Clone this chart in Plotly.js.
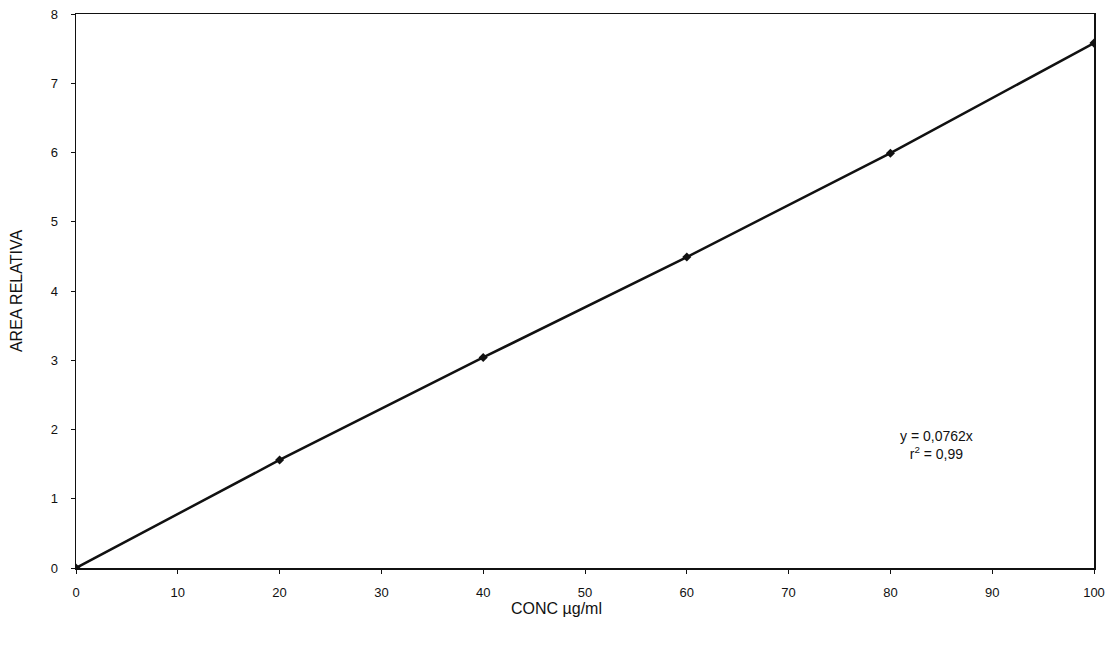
<!DOCTYPE html>
<html>
<head>
<meta charset="utf-8">
<script src="https://cdn.plot.ly/plotly-3.0.1.min.js"></script>
<style>html,body{margin:0;padding:0;background:#fff;}#chart{width:1113px;height:649px;}</style>
</head>
<body>
<div id="chart"></div>
<script>
const conc = [0, 20, 40, 60, 80, 100];
const area = [0, 1.56, 3.04, 4.49, 5.99, 7.58];
const eqText = "y = 0,0762x<br>r<sup>2</sup> = 0,99";
const xTitle = 'CONC µg/ml';
const yTitle = 'AREA RELATIVA';

const traces = [
  {x: conc, y: area, mode: 'lines+markers', line: {color: '#111', width: 2.5}, marker: {color: '#111', size: 7, symbol: 'diamond'}, showlegend: false}
];

const layout = {
  width: 1113, height: 649,
  margin: {l: 76, r: 19, t: 14, b: 81},
  paper_bgcolor: '#fff', plot_bgcolor: '#fff',
  font: {family: 'Liberation Sans, Arial, sans-serif', color: '#111', size: 13},
  showlegend: false,
  xaxis: {
    range: [0, 100], dtick: 10, tick0: 0, showgrid: false, zeroline: false,
    showline: true, linecolor: '#111', linewidth: 1.5, mirror: true,
    ticks: 'outside', ticklen: 4, tickcolor: '#111',
    ticklabelstandoff: 8,
    tickfont: {size: 13}
  },
  yaxis: {
    range: [0, 8], dtick: 1, tick0: 0, showgrid: false, zeroline: false,
    showline: true, linecolor: '#111', linewidth: 1.5, mirror: true,
    ticks: 'outside', ticklen: 4, tickcolor: '#111',
    ticklabelstandoff: 10,
    tickfont: {size: 13},
    title: {text: yTitle, font: {size: 16}, standoff: 24}
  },
  annotations: [
    {x: 84.5, y: 1.77, xref: 'x', yref: 'y', text: eqText, showarrow: false, align: 'center', font: {size: 14, color: '#111'}},
    {x: 556, y: 608, xref: 'paper', yref: 'paper', text: xTitle, showarrow: false, font: {size: 16, color: '#111'}}
  ]
};
// convert pixel position of x title into paper coords
const plotW = 1113 - 76 - 19, plotH = 649 - 14 - 81;
layout.annotations[1].x = (556 - 76) / plotW;
layout.annotations[1].y = (649 - 81 - 608) / plotH;
layout.annotations[1].yanchor = 'middle';

Plotly.newPlot('chart', traces, layout, {displayModeBar: false, staticPlot: true});
</script>
</body>
</html>
